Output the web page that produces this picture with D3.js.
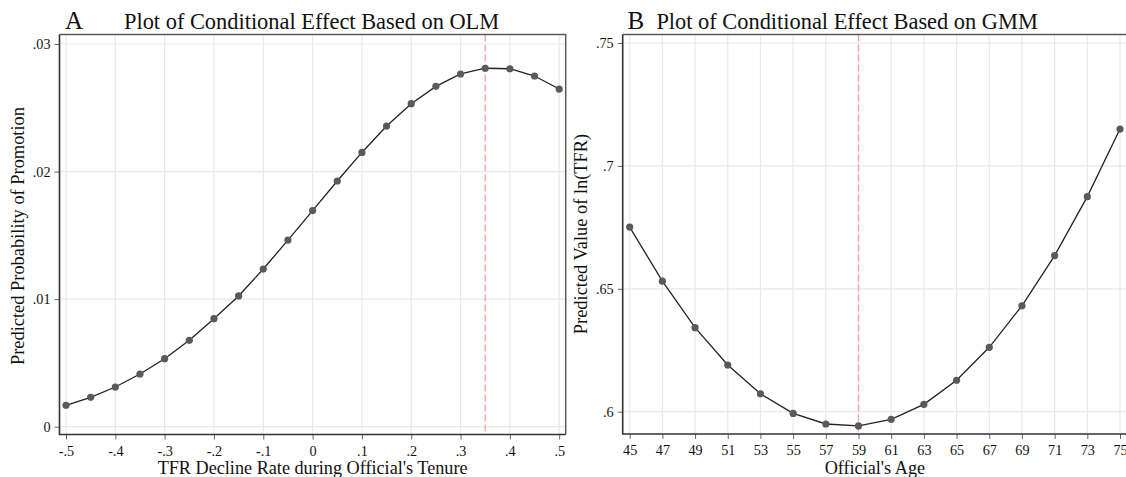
<!DOCTYPE html>
<html lang="en">
<head>
<meta charset="UTF-8">
<title>Conditional Effect</title>
<script src="https://d3js.org/d3.v7.min.js"></script>
<style>
  body { margin: 0; background: #fff; }
  svg text { font-family: 'Liberation Serif', 'Times New Roman', serif; fill: #111; }
</style>
</head>
<body>
<div class="canvas"></div>
<script>
  // panel A - OLM
  const olmRate = [-0.5, -0.45, -0.4, -0.35, -0.3, -0.25, -0.2, -0.15, -0.1, -0.05, 0, 0.05, 0.1, 0.15, 0.2, 0.25, 0.3, 0.35, 0.4, 0.45, 0.5]
  const olmProb = [0.00168, 0.0023, 0.00311, 0.00413, 0.00533, 0.00677, 0.00847, 0.01025, 0.01236, 0.01463, 0.01694, 0.01926, 0.0215, 0.02357, 0.02532, 0.02668, 0.02765, 0.0281, 0.02806, 0.02749, 0.02647]
  const olmXTicks = [-0.5, -0.4, -0.3, -0.2, -0.1, 0, 0.1, 0.2, 0.3, 0.4, 0.5]
  const olmXLabels = ['-.5', '-.4', '-.3', '-.2', '-.1', '0', '.1', '.2', '.3', '.4', '.5']
  const olmYTicks = [0, 0.01, 0.02, 0.03]
  const olmYLabels = ['0', '.01', '.02', '.03']
  const olmMark = 0.35

  // panel B - GMM
  const gmmAge = [45, 47, 49, 51, 53, 55, 57, 59, 61, 63, 65, 67, 69, 71, 73, 75]
  const gmmValue = [0.6751, 0.6531, 0.6342, 0.619, 0.6073, 0.5993, 0.595, 0.5942, 0.5969, 0.603, 0.6128, 0.6262, 0.6431, 0.6635, 0.6875, 0.715]
  const gmmXTicks = [45, 47, 49, 51, 53, 55, 57, 59, 61, 63, 65, 67, 69, 71, 73, 75]
  const gmmXLabels = ['45', '47', '49', '51', '53', '55', '57', '59', '61', '63', '65', '67', '69', '71', '73', '75']
  const gmmYTicks = [0.6, 0.65, 0.7, 0.75]
  const gmmYLabels = ['.6', '.65', '.7', '.75']
  const gmmMark = 59

  const width = 1126
  const height = 477
  const serif = "'Liberation Serif', 'Times New Roman', serif"

  const svg = d3.select('.canvas')
    .append('svg')
    .attr('width', width)
    .attr('height', height)

  function drawPanel(p) {
    const g = svg.append('g')

    const x = d3.scaleLinear()
      .domain([p.xTicks[0], p.xTicks[p.xTicks.length - 1]])
      .range([p.left + p.pad, p.right - p.pad])
    const y = d3.scaleLinear()
      .domain([p.yTicks[0], p.yTicks[p.yTicks.length - 1]])
      .range(p.yRange)

    // grid
    g.selectAll('line.vgrid')
      .data(p.xTicks)
      .enter()
      .append('line')
      .attr('class', 'vgrid')
      .attr('x1', d => x(d)).attr('x2', d => x(d))
      .attr('y1', p.top).attr('y2', p.bottom)
      .attr('stroke', '#e9e9e9')
      .attr('stroke-width', 1.2)
    g.selectAll('line.hgrid')
      .data(p.yTicks)
      .enter()
      .append('line')
      .attr('class', 'hgrid')
      .attr('x1', p.left).attr('x2', p.right)
      .attr('y1', d => y(d)).attr('y2', d => y(d))
      .attr('stroke', '#e9e9e9')
      .attr('stroke-width', 1.2)

    // reference line
    g.append('line')
      .attr('x1', x(p.mark)).attr('x2', x(p.mark))
      .attr('y1', p.top).attr('y2', p.bottom)
      .attr('stroke', '#f6a0a0')
      .attr('stroke-width', 1.3)
      .attr('stroke-dasharray', '7,3')

    // outer frame (top / right)
    g.append('path')
      .attr('d', `M${p.left},${p.top}H${p.right}V${p.bottom}`)
      .attr('fill', 'none')
      .attr('stroke', '#5a5a5a')
      .attr('stroke-width', 1.5)

    const xAxis = d3.axisBottom(x)
      .tickValues(p.xTicks)
      .tickFormat((d, i) => p.xLabels[i])
      .tickSize(5)
      .tickPadding(6)
    const yAxis = d3.axisLeft(y)
      .tickValues(p.yTicks)
      .tickFormat((d, i) => p.yLabels[i])
      .tickSize(5)
      .tickPadding(4)

    const xAxisG = g.append('g')
      .attr('transform', `translate(0, ${p.bottom})`)
      .call(xAxis)
    const yAxisG = g.append('g')
      .attr('transform', `translate(${p.left}, 0)`)
      .call(yAxis)

    ;[xAxisG, yAxisG].forEach(a => {
      a.select('.domain').remove()
      a.attr('font-family', serif).attr('font-size', 14.2)
      a.selectAll('.tick line').attr('stroke', '#666')
      a.selectAll('.tick text').attr('fill', '#111')
    })

    // axis lines
    g.append('path')
      .attr('d', `M${p.left},${p.top}V${p.bottom}H${p.right}`)
      .attr('fill', 'none')
      .attr('stroke', '#333')
      .attr('stroke-width', 1.6)

    // curve + points
    const pts = p.xs.map((v, i) => [v, p.ys[i]])
    const line = d3.line()
      .x(d => x(d[0]))
      .y(d => y(d[1]))

    g.append('path')
      .attr('d', line(pts))
      .attr('fill', 'none')
      .attr('stroke', '#222')
      .attr('stroke-width', 1.3)

    g.selectAll('circle')
      .data(pts)
      .enter()
      .append('circle')
      .attr('cx', d => x(d[0]))
      .attr('cy', d => y(d[1]))
      .attr('r', 3.6)
      .attr('fill', '#5a5a5a')

    // titles
    g.append('text')
      .attr('x', p.letterX).attr('y', 29)
      .attr('font-size', 25)
      .text(p.letter)
    g.append('text')
      .attr('x', p.titleX).attr('y', 28.5)
      .attr('font-size', 22.4)
      .text(p.title)

    g.append('text')
      .attr('x', (p.left + p.right) / 2).attr('y', 473.5)
      .attr('text-anchor', 'middle')
      .attr('font-size', 18.2)
      .text(p.xTitle)
    g.append('text')
      .attr('transform', `translate(${p.yTitleX}, ${p.yTitleY}) rotate(-90)`)
      .attr('text-anchor', 'middle')
      .attr('font-size', 18.4)
      .text(p.yTitle)
  }

  drawPanel({
    xs: olmRate, ys: olmProb,
    xTicks: olmXTicks, xLabels: olmXLabels,
    yTicks: olmYTicks, yLabels: olmYLabels,
    mark: olmMark,
    left: 59.5, right: 565.7, top: 34.5, bottom: 434.5, pad: 6.5,
    yRange: [426.7, 44],
    letter: 'A', letterX: 65,
    title: 'Plot of Conditional Effect Based on OLM', titleX: 124,
    xTitle: "TFR Decline Rate during Official's Tenure",
    yTitle: 'Predicted Probability of Promotion',
    yTitleX: 24, yTitleY: 236
  })

  drawPanel({
    xs: gmmAge, ys: gmmValue,
    xTicks: gmmXTicks, xLabels: gmmXLabels,
    yTicks: gmmYTicks, yLabels: gmmYLabels,
    mark: gmmMark,
    left: 622.7, right: 1127, top: 34.5, bottom: 434, pad: 7,
    yRange: [411.7, 43],
    letter: 'B', letterX: 627.6,
    title: 'Plot of Conditional Effect Based on GMM', titleX: 656.4,
    xTitle: "Official's Age",
    yTitle: 'Predicted Value of ln(TFR)',
    yTitleX: 587, yTitleY: 234
  })
</script>
</body>
</html>
